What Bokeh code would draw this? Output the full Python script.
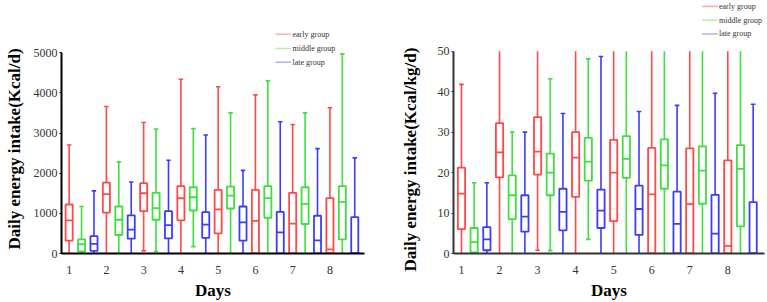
from bokeh.plotting import figure
from bokeh.layouts import row
from bokeh.models import Range1d, FixedTicker, Title
from bokeh.core.properties import value
from bokeh.embed import file_html
from bokeh.resources import INLINE

days = [1, 2, 3, 4, 5, 6, 7, 8]
groups = ["early group", "middle group", "late group"]
colors = ["#ff4848", "#3ee03e", "#3c3cff"]
legend_colors = ["#ffb0b0", "#b0eeb0", "#b0b0f2"]

# Daily energy intake (Kcal/d): whisker low, Q1, median, Q3, whisker high per day
kcal_early = dict(
    lo=[0, 0, 65, 0, 0, 0, 0, 0],
    q1=[320, 1020, 1055, 825, 500, 0, 0, 0],
    med=[825, 1480, 1500, 1375, 1100, 810, 745, 105],
    q3=[1220, 1765, 1750, 1675, 1585, 1585, 1510, 1380],
    hi=[2700, 3660, 3260, 4340, 4150, 3950, 3210, 3630],
)
kcal_middle = dict(
    lo=[0, 0, 50, 170, 0, 0, 0, 0],
    q1=[50, 460, 840, 1070, 1120, 890, 735, 350],
    med=[230, 840, 1130, 1400, 1440, 1380, 1235, 1285],
    q3=[350, 1170, 1510, 1650, 1665, 1675, 1650, 1675],
    hi=[1170, 2280, 3100, 3110, 3500, 4300, 3500, 4970],
)
kcal_late = dict(
    lo=[0, 0, 0, 0, 0, 0, 0, 0],
    q1=[65, 370, 375, 390, 320, 0, 0, 0],
    med=[240, 595, 705, 720, 775, 525, 325, 0],
    q3=[435, 950, 1055, 1030, 1170, 1035, 940, 905],
    hi=[1560, 1780, 2320, 2950, 2070, 3280, 2610, 2380],
)

# Daily energy intake per body weight (Kcal/kg/d)
kgd_early = dict(
    lo=[0, 0, 0.8, 0, 0, 0, 0, 0],
    q1=[6.0, 18.8, 19.5, 14.0, 8.0, 0, 0, 0],
    med=[14.8, 25.0, 25.2, 23.7, 20.0, 14.6, 12.2, 1.9],
    q3=[21.2, 32.2, 33.7, 30.0, 28.1, 26.1, 26.0, 23.0],
    hi=[41.8, 50, 50, 50, 50, 50, 50, 50],
)
kgd_middle = dict(
    lo=[0, 0, 0.7, 3.5, 0, 0, 0, 0],
    q1=[0.3, 8.5, 14.4, 18.0, 18.7, 16.0, 12.3, 6.7],
    med=[2.8, 14.4, 20.0, 22.7, 23.4, 21.8, 20.5, 20.9],
    q3=[6.3, 19.3, 24.7, 28.6, 29.0, 28.2, 26.5, 26.8],
    hi=[17.5, 30.0, 43.2, 48.1, 50, 50, 50, 50],
)
kgd_late = dict(
    lo=[0, 0, 0, 0, 0, 0, 0, 0],
    q1=[0.8, 5.4, 5.7, 6.3, 4.6, 0, 0, 0],
    med=[3.5, 9.1, 10.3, 10.6, 11.0, 7.3, 4.9, 0],
    q3=[6.5, 14.4, 16.0, 15.8, 16.8, 15.3, 14.5, 12.7],
    hi=[17.5, 30.0, 34.6, 48.7, 35.1, 36.6, 39.6, 36.9],
)

kcal_ticks = [0, 1000, 2000, 3000, 4000, 5000]
kgd_ticks = [0, 10, 20, 30, 40, 50]

SERIF = "Liberation Serif"
BOX_W = 0.19
CAP_W = 0.12
FRAME_H = 257  # plotting area height in pixels


def make_panel(series, ticks, y_label, width, border_left, border_right,
               x_span, y_top, spine_color, legend_px, title_standoff, title_offset):
    y_max = ticks[-1]
    p = figure(width=width, height=302, output_backend="svg", toolbar_location=None,
               x_range=Range1d(*x_span), y_range=Range1d(0, y_top),
               min_border_left=border_left, min_border_right=border_right,
               min_border_top=0, min_border_bottom=45)
    p.outline_line_color = None
    p.grid.visible = False
    p.background_fill_color = "white"

    for k, (stats, color) in enumerate(zip(series, colors)):
        xs = [d + k / 3 for d in days]
        p.segment(x0=xs, y0=stats["q3"], x1=xs, y1=stats["hi"], line_color=color, line_width=1.6)
        p.segment(x0=xs, y0=stats["lo"], x1=xs, y1=stats["q1"], line_color=color, line_width=1.6)
        cx = [x for x, h in zip(xs, stats["hi"]) if h < y_max]
        ch = [h for h in stats["hi"] if h < y_max]
        p.segment(x0=[x - CAP_W / 2 for x in cx], y0=ch, x1=[x + CAP_W / 2 for x in cx], y1=ch,
                  line_color=color, line_width=1.6)
        lx = [x for x, lo in zip(xs, stats["lo"]) if lo > 0]
        ly = [lo for lo in stats["lo"] if lo > 0]
        p.segment(x0=[x - CAP_W / 2 for x in lx], y0=ly, x1=[x + CAP_W / 2 for x in lx], y1=ly,
                  line_color=color, line_width=1.6)
        p.quad(left=[x - BOX_W / 2 for x in xs], right=[x + BOX_W / 2 for x in xs],
               bottom=stats["q1"], top=stats["q3"], fill_color="white",
               line_color=color, line_width=1.8)
        p.segment(x0=[x - BOX_W / 2 for x in xs], y0=stats["med"],
                  x1=[x + BOX_W / 2 for x in xs], y1=stats["med"],
                  line_color=color, line_width=1.8)

    # legend in the empty band above the value axis, pale line samples
    (lx0, lx1, tx), rows = legend_px
    fw = width - border_left - border_right

    def to_x(px):
        return x_span[0] + (px - border_left) / fw * (x_span[1] - x_span[0])

    def to_y(py):
        return (FRAME_H - py) / FRAME_H * y_top

    for name, c, py in zip(groups, legend_colors, rows):
        p.segment(x0=[to_x(lx0)], y0=[to_y(py)], x1=[to_x(lx1)], y1=[to_y(py)],
                  line_color=c, line_width=1.6)
        p.text(x=[to_x(tx)], y=[to_y(py)], text=[name], text_font=value(SERIF),
               text_font_size="8px", text_color="#333333",
               text_baseline="middle", text_align="left")

    p.yaxis.ticker = FixedTicker(ticks=ticks)
    p.yaxis.bounds = (0, y_max)
    p.yaxis.axis_line_color = spine_color
    p.yaxis.axis_line_width = 2
    p.yaxis.major_tick_line_color = spine_color
    p.yaxis.major_tick_in = 0
    p.yaxis.major_tick_out = 2
    p.yaxis.minor_tick_line_color = None
    p.yaxis.major_label_standoff = 2

    # vertical axis title, anchored at the bottom of the value axis
    p.add_layout(Title(text=y_label, align="left", vertical_align="top",
                       offset=title_offset, standoff=title_standoff,
                       text_font=SERIF, text_font_style="bold",
                       text_font_size="17px", text_color="black"), "left")

    p.xaxis.ticker = FixedTicker(ticks=days)
    p.xaxis.axis_line_color = spine_color
    p.xaxis.axis_line_width = 2
    p.xaxis.major_tick_line_color = None
    p.xaxis.minor_tick_line_color = None
    p.xaxis.major_label_standoff = 6
    p.xaxis.axis_label = "Days"
    p.xaxis.axis_label_standoff = 4
    p.xaxis.axis_label_text_font = SERIF
    p.xaxis.axis_label_text_font_style = "bold"
    p.xaxis.axis_label_text_font_size = "17px"
    p.xaxis.axis_label_text_color = "black"

    for ax in (p.xaxis, p.yaxis):
        ax.major_label_text_font = SERIF
        ax.major_label_text_font_size = "12px"
        ax.major_label_text_color = "#333333"
    return p


left = make_panel([kcal_early, kcal_middle, kcal_late], kcal_ticks,
                  "Daily energy intake(Kcal/d)", 383, 59, 19,
                  (0.795, 8.928), 6299, "black",
                  ((274.3, 290.0, 291.5), (34.3, 48.7, 62.7)), 9, 4)
right = make_panel([kgd_early, kgd_middle, kgd_late], kgd_ticks,
                   "Daily energy intake(Kcal/kg/d)", 384, 70, 3,
                   (0.79, 8.965), 62.53, "#333333",
                   ((318.7, 334.3, 335.5), (6.0, 20.0, 34.0)), 25, -18)

layout = row(left, right)
open("out.html", "w").write(file_html(layout, INLINE))
